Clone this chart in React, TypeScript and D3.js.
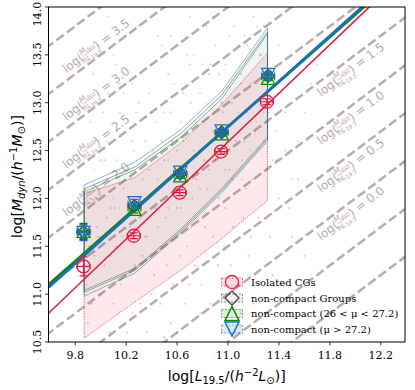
import React from "react";
import * as d3 from "d3";

// ---------- data ----------
const xTicks = [9.8, 10.2, 10.6, 11.0, 11.4, 11.8, 12.2];
const yTicks = [10.5, 11.0, 11.5, 12.0, 12.5, 13.0, 13.5, 14.0];

// constant log(Mdyn / h L19.5) lines
const ratioLevels = [-1.0, -0.5, 0.0, 0.5, 1.0, 1.5, 2.0, 2.5, 3.0, 3.5, 4.0];
const ratioLabelsLeft = [2.0, 2.5, 3.0, 3.5];
const ratioLabelsRight = [0.0, 0.5, 1.0, 1.5];

// binned medians
const xIso = [9.865, 10.26, 10.62, 10.945, 11.305];
const yIso = [11.29, 11.61, 12.06, 12.49, 13.01];
const yIsoErr = [0.1, 0.03, 0.03, 0.03, 0.03];
const xNC = [9.865, 10.265, 10.625, 10.95, 11.315];
const yNCgrey = [11.65, 11.92, 12.26, 12.69, 13.28];
const yNCgreen = [11.66, 11.89, 12.24, 12.68, 13.26];
const yNCblue = [11.64, 11.95, 12.27, 12.70, 13.29];
const yNCErr = [0.08, 0.04, 0.03, 0.03, 0.03];
const xErr = [0.05, 0.05, 0.05, 0.05, 0.05];

// linear fits y = a + b x
const fitIso = { a: -1.379, b: 1.27 };
const fitGrey = { a: -0.23, b: 1.18 };
const fitGreen = { a: -0.12, b: 1.17 };
const fitBlue = { a: -0.342, b: 1.19 };

// percentile bands
const bandX = [9.87, 10.27, 10.63, 10.95, 11.31];
const isoLo = [10.54, 10.92, 11.25, 11.58, 11.98];
const isoHi = [12.05, 12.22, 12.58, 12.98, 13.52];
const greyLo = [11.04, 11.27, 11.68, 12.10, 12.64];
const greyHi = [12.10, 12.33, 12.68, 13.08, 13.74];
const greenLo = [11.02, 11.25, 11.66, 12.08, 12.62];
const greenHi = [12.07, 12.30, 12.64, 13.04, 13.72];
const blueLo = [10.98, 11.22, 11.64, 12.06, 12.60];
const blueHi = [12.14, 12.38, 12.72, 13.12, 13.78];

// individual galaxies (a sample of the cloud)
const pinkPts: [number, number][] = [
  [9.9, 10.7], [9.95, 11.4], [10.0, 11.0], [10.05, 11.8], [10.1, 10.9], [10.12, 11.5], [10.18, 12.1],
  [10.2, 11.2], [10.25, 10.8], [10.3, 11.9], [10.33, 11.4], [10.38, 12.3], [10.4, 11.0], [10.45, 11.7],
  [10.5, 12.4], [10.52, 11.3], [10.55, 10.7], [10.6, 11.9], [10.65, 12.6], [10.68, 11.5], [10.7, 11.1],
  [10.75, 12.2], [10.8, 12.8], [10.82, 11.7], [10.86, 10.9], [10.9, 12.4], [10.95, 13.0], [10.98, 11.9],
  [11.02, 11.3], [11.06, 12.6], [11.1, 13.2], [11.14, 12.1], [11.18, 11.6], [11.22, 12.8], [11.26, 13.5],
  [11.3, 12.3], [11.35, 11.2], [11.4, 12.0], [10.0, 12.4], [10.4, 12.9], [10.15, 13.2], [10.6, 10.6],
  [11.0, 10.7], [11.5, 11.6], [11.2, 10.9], [9.92, 12.0], [10.22, 11.6], [10.48, 11.5], [10.72, 12.0],
  [10.92, 11.3], [11.12, 11.8], [11.32, 12.9], [10.36, 10.6], [10.78, 10.8], [11.45, 12.5], [10.58, 12.2],
  [9.89, 11.1], [9.93, 10.9], [9.98, 11.6], [10.03, 11.3], [10.07, 10.6], [10.11, 11.9], [10.16, 11.1],
  [10.21, 10.6], [10.27, 11.3], [10.31, 10.9], [10.35, 11.6], [10.42, 11.2], [10.47, 10.9], [10.53, 11.9],
  [10.57, 11.1], [10.62, 11.4], [10.66, 10.9], [10.71, 11.7], [10.74, 11.3], [10.79, 11.1], [10.84, 12.1],
  [10.88, 11.6], [10.93, 12.0], [10.97, 11.5], [11.01, 12.3], [11.04, 11.7], [11.08, 11.1], [11.11, 12.4],
  [11.16, 11.4], [11.19, 12.2], [11.24, 11.8], [11.28, 12.6], [11.33, 11.6], [11.38, 12.4], [11.42, 11.1],
  [11.48, 11.9], [11.55, 12.2], [11.6, 11.4], [11.25, 10.6], [10.95, 10.6], [11.1, 10.8], [10.5, 10.55],
  [9.96, 12.6], [10.25, 12.6], [10.55, 12.9], [10.85, 13.3], [11.15, 13.6], [10.3, 13.0], [10.7, 13.4],
];
const bluePts: [number, number][] = [
  [9.9, 11.9], [9.95, 12.3], [10.0, 11.6], [10.05, 12.6], [10.1, 12.0], [10.15, 12.9], [10.2, 12.3],
  [10.25, 13.2], [10.3, 11.8], [10.35, 12.6], [10.4, 13.4], [10.45, 12.2], [10.5, 12.9], [10.55, 13.7],
  [10.6, 12.5], [10.65, 13.1], [10.7, 13.9], [10.75, 12.8], [10.8, 13.4], [10.85, 12.3], [10.9, 13.6],
  [10.95, 13.0], [11.0, 12.6], [11.05, 13.8], [11.1, 13.3], [11.15, 12.9], [11.2, 13.9], [11.25, 13.5],
  [11.3, 12.8], [9.92, 12.8], [10.1, 13.5], [10.3, 13.8], [11.4, 13.6], [11.6, 12.9], [11.5, 12.2],
  [9.88, 11.4], [9.97, 12.0], [10.02, 12.9], [10.08, 11.4], [10.13, 12.4], [10.18, 13.1], [10.23, 11.7],
  [10.28, 12.4], [10.38, 12.0], [10.43, 12.8], [10.48, 13.6], [10.53, 12.4], [10.58, 13.2], [10.63, 11.9],
  [10.68, 12.7], [10.73, 13.5], [10.78, 12.1], [10.83, 13.0], [10.88, 13.9], [10.93, 12.5], [10.98, 13.4],
  [11.03, 12.2], [11.08, 12.9], [11.13, 13.7], [11.18, 12.5], [11.23, 13.2], [11.28, 13.8], [11.35, 12.4],
  [9.94, 13.3], [10.06, 13.9], [11.7, 13.4], [11.45, 12.9],
];
const greenPts: [number, number][] = [
  [9.88, 12.1], [9.97, 11.7], [10.03, 12.4], [10.08, 11.9], [10.13, 12.7], [10.22, 12.0], [10.28, 12.9],
  [10.33, 12.2], [10.38, 13.1], [10.43, 11.9], [10.48, 12.6], [10.53, 13.3], [10.58, 12.1], [10.63, 12.8],
  [10.68, 13.5], [10.73, 12.5], [10.78, 13.1], [10.83, 13.8], [10.88, 12.7], [10.93, 13.3], [10.98, 12.3],
  [11.03, 13.0], [11.08, 13.6], [11.13, 12.6], [11.18, 13.2], [11.23, 13.8], [11.28, 12.9], [10.12, 13.4],
  [9.95, 13.0], [11.42, 13.1], [11.55, 12.6], [10.45, 13.7], [9.91, 11.5], [10.0, 12.1], [10.06, 13.1],
  [10.17, 11.6], [10.26, 12.5], [10.36, 11.6], [10.41, 12.5], [10.51, 11.8], [10.56, 12.6], [10.66, 12.2],
  [10.71, 13.0], [10.81, 12.4], [10.86, 13.4], [10.96, 12.9], [11.01, 13.7], [11.11, 12.2], [11.21, 12.7],
  [11.31, 13.4], [11.38, 12.7], [10.2, 13.7], [11.65, 13.2],
];

// legend
const legendLabels = [
  "Isolated CGs",
  "non-compact Groups",
  "non-compact (26 < \u03bc < 27.2)",
  "non-compact (\u03bc > 27.2)",
];

// ---------- layout ----------
const W = 415, H = 390;
const L = 48.5, R = 405, T = 7, B = 342;
const xS = d3.scaleLinear().domain([9.59, 12.39]).range([L, R]);
const yS = d3.scaleLinear().domain([10.5, 14.0]).range([B, T]);

const RED = "#e8193f";
const GREEN = "#0a8a0a";
const BLUE = "#1a6fc4";
const GREY = "#444444";
const DASH = "#b9abab";
const ANG = (-Math.atan2(yS(10.5) - yS(11.5), xS(10.5) - xS(9.5)) * 180) / Math.PI;

const tri = (cx: number, cy: number, s: number, up: boolean) => {
  const h = s / 2;
  return up
    ? `M${cx},${cy - h}L${cx - h},${cy + h}L${cx + h},${cy + h}Z`
    : `M${cx},${cy + h}L${cx - h},${cy - h}L${cx + h},${cy - h}Z`;
};
const diamond = (cx: number, cy: number, s: number) => {
  const h = s / 2;
  return `M${cx},${cy - h}L${cx + h},${cy}L${cx},${cy + h}L${cx - h},${cy}Z`;
};

function bandPath(lo: number[], hi: number[]) {
  const pts: [number, number][] = [];
  bandX.forEach((x, i) => pts.push([xS(x), yS(lo[i])]));
  for (let i = bandX.length - 1; i >= 0; i--) pts.push([xS(bandX[i]), yS(hi[i])]);
  return d3.line()(pts) + "Z";
}

function fitLine(f: { a: number; b: number }) {
  const x0 = 9.59, x1 = 12.39;
  return d3.line()([
    [xS(x0), yS(f.a + f.b * x0)],
    [xS(x1), yS(f.a + f.b * x1)],
  ]);
}

function ErrBars({ xs, ys, ye, color }: { xs: number[]; ys: number[]; ye: number[]; color: string }) {
  return (
    <g stroke={color} strokeWidth={1.2} fill="none">
      {xs.map((x, i) => {
        const px = xS(x), py = yS(ys[i]);
        const x0 = xS(x - xErr[i]), x1 = xS(x + xErr[i]);
        const y0 = yS(ys[i] - ye[i]), y1 = yS(ys[i] + ye[i]);
        return (
          <g key={i}>
            <line x1={x0} x2={x1} y1={py} y2={py} />
            <line x1={x0} x2={x0} y1={py - 2.5} y2={py + 2.5} />
            <line x1={x1} x2={x1} y1={py - 2.5} y2={py + 2.5} />
            <line x1={px} x2={px} y1={y0} y2={y1} />
            <line x1={px - 4} x2={px + 4} y1={y0} y2={y0} />
            <line x1={px - 4} x2={px + 4} y1={y1} y2={y1} />
          </g>
        );
      })}
    </g>
  );
}

function RatioLabel({ c, side }: { c: number; side: "left" | "right" }) {
  const lx = side === "left" ? 9.963 : 11.963;
  const off = side === "left" ? 0.13 : -0.12;
  const px = xS(lx), py = yS(lx + c + off);
  const fs = 12;
  return (
    <g transform={`translate(${px},${py}) rotate(${ANG})`} fill={DASH} fontFamily="DejaVu Sans" >
      <g transform="translate(-9,0)">
        <text x={-8} y={4} fontSize={fs} textAnchor="end">log(</text>
        <text x={0} y={-1.5} fontSize={7.5} textAnchor="middle" fontStyle="italic">
          M<tspan fontSize={5.5} dy={1.5}>dyn</tspan>
        </text>
        <line x1={-7.5} x2={7.5} y1={0.5} y2={0.5} stroke={DASH} strokeWidth={0.7} />
        <text x={0} y={7.5} fontSize={7.5} textAnchor="middle" fontStyle="italic">
          hL<tspan fontSize={5.5} dy={1.5} fontStyle="normal">19.5</tspan>
        </text>
        <text x={8} y={4} fontSize={fs} textAnchor="start">{`) = ${c.toFixed(1)}`}</text>
      </g>
    </g>
  );
}

export default function App() {
  const legendY = [282, 298, 313.5, 329];
  const lgX = 232;
  return (
    <svg width={W} height={H} style={{ position: "absolute", left: 0, top: 0, background: "#fff" }}>
      <defs>
        <clipPath id="plot">
          <rect x={L} y={T} width={R - L} height={B - T} />
        </clipPath>
      </defs>
      <g clipPath="url(#plot)">
        {/* constant ratio lines */}
        {ratioLevels.map((c) => (
          <line key={c} x1={xS(9.0)} y1={yS(9.0 + c)} x2={xS(13.0)} y2={yS(13.0 + c)}
            stroke={DASH} strokeWidth={2.5} strokeDasharray="9,4" />
        ))}
        {ratioLabelsLeft.map((c) => <RatioLabel key={"l" + c} c={c} side="left" />)}
        {ratioLabelsRight.map((c) => <RatioLabel key={"r" + c} c={c} side="right" />)}

        {/* scatter clouds */}
        {pinkPts.map((p, i) => <circle key={"p" + i} cx={xS(p[0])} cy={yS(p[1])} r={0.9} fill={RED} opacity={0.35} />)}
        {greenPts.map((p, i) => <circle key={"g" + i} cx={xS(p[0])} cy={yS(p[1])} r={0.9} fill={GREEN} opacity={0.3} />)}
        {bluePts.map((p, i) => <circle key={"b" + i} cx={xS(p[0])} cy={yS(p[1])} r={0.9} fill={BLUE} opacity={0.3} />)}

        {/* bands */}
        <path d={bandPath(isoLo, isoHi)} fill={RED} fillOpacity={0.1} stroke={RED} strokeWidth={0.6} strokeDasharray="1.5,1" />
        <path d={bandPath(greyLo, greyHi)} fill="#999" fillOpacity={0.06} stroke={GREY} strokeWidth={0.5} />
        <path d={bandPath(greenLo, greenHi)} fill={GREEN} fillOpacity={0.02} stroke={GREEN} strokeWidth={0.5} />
        <path d={bandPath(blueLo, blueHi)} fill={BLUE} fillOpacity={0.02} stroke={BLUE} strokeWidth={0.5} />

        {/* fits */}
        <path d={fitLine(fitIso)!} stroke={RED} strokeWidth={1.6} fill="none" />
        <path d={fitLine(fitGrey)!} stroke={GREY} strokeWidth={2} fill="none" />
        <path d={fitLine(fitGreen)!} stroke={GREEN} strokeWidth={2.6} fill="none" />
        <path d={fitLine(fitBlue)!} stroke={BLUE} strokeWidth={2.6} fill="none" />

        {/* isolated CGs */}
        <ErrBars xs={xIso} ys={yIso} ye={yIsoErr} color={RED} />
        {xIso.map((x, i) => (
          <circle key={"ci" + i} cx={xS(x)} cy={yS(yIso[i])} r={6.5} fill="none" stroke={RED} strokeWidth={1.3} />
        ))}

        {/* non-compact */}
        <ErrBars xs={xNC} ys={yNCgrey} ye={yNCErr} color={GREY} />
        {xNC.map((x, i) => (
          <path key={"d" + i} d={diamond(xS(x), yS(yNCgrey[i]), 13)} fill="none" stroke={GREY} strokeWidth={1.2} />
        ))}
        <ErrBars xs={xNC} ys={yNCgreen} ye={yNCErr} color={GREEN} />
        {xNC.map((x, i) => (
          <path key={"u" + i} d={tri(xS(x), yS(yNCgreen[i]), 13, true)} fill="none" stroke={GREEN} strokeWidth={1.3} />
        ))}
        <ErrBars xs={xNC} ys={yNCblue} ye={yNCErr} color={BLUE} />
        {xNC.map((x, i) => (
          <path key={"v" + i} d={tri(xS(x), yS(yNCblue[i]), 13, false)} fill="none" stroke={BLUE} strokeWidth={1.3} />
        ))}
      </g>

      {/* legend */}
      <g fontFamily="DejaVu Serif" fontSize={10} fill="#000">
        {[RED, GREY, GREEN, BLUE].map((col, i) => (
          <g key={i}>
            <rect x={lgX - 10.5} y={legendY[i] - 4} width={21} height={8}
              fill={i === 1 ? "#999" : col} fillOpacity={0.15} stroke={col} strokeWidth={0.6} strokeDasharray="2,1.5" />
            {i === 0 && <circle cx={lgX} cy={legendY[i]} r={6.5} fill="none" stroke={RED} strokeWidth={1.3} />}
            {i === 1 && <path d={diamond(lgX, legendY[i], 14)} fill="none" stroke={GREY} strokeWidth={1.3} />}
            {i === 2 && <path d={tri(lgX, legendY[i], 14, true)} fill="none" stroke={GREEN} strokeWidth={1.5} />}
            {i === 3 && <path d={tri(lgX, legendY[i], 14, false)} fill="none" stroke={BLUE} strokeWidth={1.5} />}
            <text x={251} y={legendY[i] + 3.5}>{legendLabels[i]}</text>
          </g>
        ))}
      </g>

      {/* frame */}
      <rect x={L} y={T} width={R - L} height={B - T} fill="none" stroke="#000" strokeWidth={1} />

      {/* axes */}
      <g fontFamily="DejaVu Serif" fontSize={11} fill="#000">
        {xTicks.map((t) => (
          <g key={t}>
            <line x1={xS(t)} x2={xS(t)} y1={B} y2={B + 3.5} stroke="#000" strokeWidth={0.8} />
            <text x={xS(t)} y={359} textAnchor="middle">{t.toFixed(1)}</text>
          </g>
        ))}
        {yTicks.map((t) => (
          <g key={t}>
            <line x1={L - 3.5} x2={L} y1={yS(t)} y2={yS(t)} stroke="#000" strokeWidth={0.8} />
            <text x={0} y={0} textAnchor="middle" transform={`translate(41,${Math.max(yS(t), 14)}) rotate(-90)`}>{t.toFixed(1)}</text>
          </g>
        ))}
      </g>

      {/* axis labels */}
      <text x={(L + R) / 2} y={381} textAnchor="middle" fontFamily="DejaVu Sans" fontSize={14}>
        log[<tspan fontStyle="italic">L</tspan>
        <tspan fontSize={10} dy={3}>19.5</tspan>
        <tspan dy={-3}>/(</tspan>
        <tspan fontStyle="italic">h</tspan>
        <tspan fontSize={10} dy={-5}>{"\u22122"}</tspan>
        <tspan fontStyle="italic" dy={5}>L</tspan>
        <tspan fontSize={10} dy={3}>{"\u2299"}</tspan>
        <tspan dy={-3}>)]</tspan>
      </text>
      <text transform={`translate(22,${(T + B) / 2 + 2}) rotate(-90)`} textAnchor="middle" fontFamily="DejaVu Sans" fontSize={14}>
        log[<tspan fontStyle="italic">M</tspan>
        <tspan fontSize={10} dy={3} fontStyle="italic">dyn</tspan>
        <tspan dy={-3}>/(</tspan>
        <tspan fontStyle="italic">h</tspan>
        <tspan fontSize={10} dy={-5}>{"\u22121"}</tspan>
        <tspan fontStyle="italic" dy={5}>M</tspan>
        <tspan fontSize={10} dy={3}>{"\u2299"}</tspan>
        <tspan dy={-3}>)]</tspan>
      </text>
    </svg>
  );
}
